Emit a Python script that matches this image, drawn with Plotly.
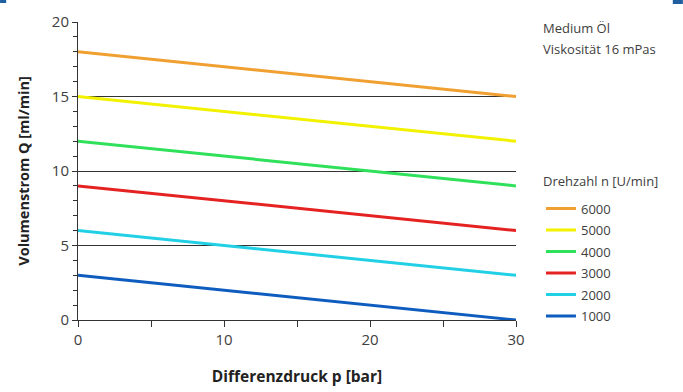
import plotly.graph_objects as go

# Differenzdruck p [bar]
pressure = [0, 30]

# Volumenstrom Q [ml/min] per Drehzahl
speeds = ["6000", "5000", "4000", "3000", "2000", "1000"]
flow = {
    "6000": [18, 15],
    "5000": [15, 12],
    "4000": [12, 9],
    "3000": [9, 6],
    "2000": [6, 3],
    "1000": [3, 0],
}
colors = {
    "6000": "#f0a030",
    "5000": "#f2f200",
    "4000": "#2ee05a",
    "3000": "#e52222",
    "2000": "#22d0e6",
    "1000": "#0f5cbf",
}

FONT = "Open Sans, Noto Sans, sans-serif"
AXIS = "#333"

fig = go.Figure()
for s in speeds:
    fig.add_trace(go.Scatter(
        x=pressure, y=flow[s], mode="lines", name=s, legendgroup=s,
        line=dict(color=colors[s], width=3),
    ))

fig.update_layout(
    width=683, height=392,
    paper_bgcolor="white", plot_bgcolor="white",
    margin=dict(l=78, r=167, t=22, b=72),
    font=dict(family=FONT, color="#404040", size=15),
    showlegend=True,
    legend=dict(
        font=dict(size=13),
        x=1.057, xanchor="left", y=0.424, yanchor="top",
        bgcolor="rgba(0,0,0,0)", itemwidth=30,
        traceorder="grouped", tracegroupgap=1.6,
    ),
    xaxis=dict(
        range=[0, 30], tickvals=[0, 10, 20, 30], automargin=False,
        showline=True, linecolor=AXIS, linewidth=1,
        ticks="outside", ticklen=6, tickcolor=AXIS,
        minor=dict(dtick=5, ticks="outside", ticklen=6, tickcolor=AXIS),
        showgrid=False, zeroline=False,
        title=dict(text="<b>Differenzdruck p [bar]</b>", font=dict(size=15.5, color="#222"), standoff=23),
    ),
    yaxis=dict(
        range=[0, 20], tickvals=[0, 5, 10, 15, 20], automargin=False,
        showline=True, linecolor=AXIS, linewidth=1,
        ticks="outside", ticklen=5, tickcolor=AXIS,
        minor=dict(dtick=1, ticks="outside", ticklen=4, tickcolor=AXIS),
        showgrid=True, gridcolor=AXIS, gridwidth=1, zeroline=False,
        title=dict(text="<b>Volumenstrom Q [ml/min]</b>", font=dict(size=14.5, color="#222"), standoff=18),
    ),
)

notes = [("Medium Öl", 0.980), ("Viskosität 16 mPas", 0.909), ("Drehzahl n [U/min]", 0.466)]
for text, ypos in notes:
    fig.add_annotation(text=text, xref="paper", yref="paper", x=1.058, y=ypos,
                       xanchor="left", yanchor="middle", showarrow=False, font=dict(size=13))

# small corner marks
for x0, x1, y1 in [(-0.178, -0.164, 1.0638), (1.358, 1.381, 1.0604)]:
    fig.add_shape(type="rect", xref="paper", yref="paper", x0=x0, x1=x1, y0=1.0738, y1=y1,
                  fillcolor="#1f5f9f", line_width=0)

fig.write_html("out.html", config={"displayModeBar": False},
               post_script="document.body.style.margin='0';")
